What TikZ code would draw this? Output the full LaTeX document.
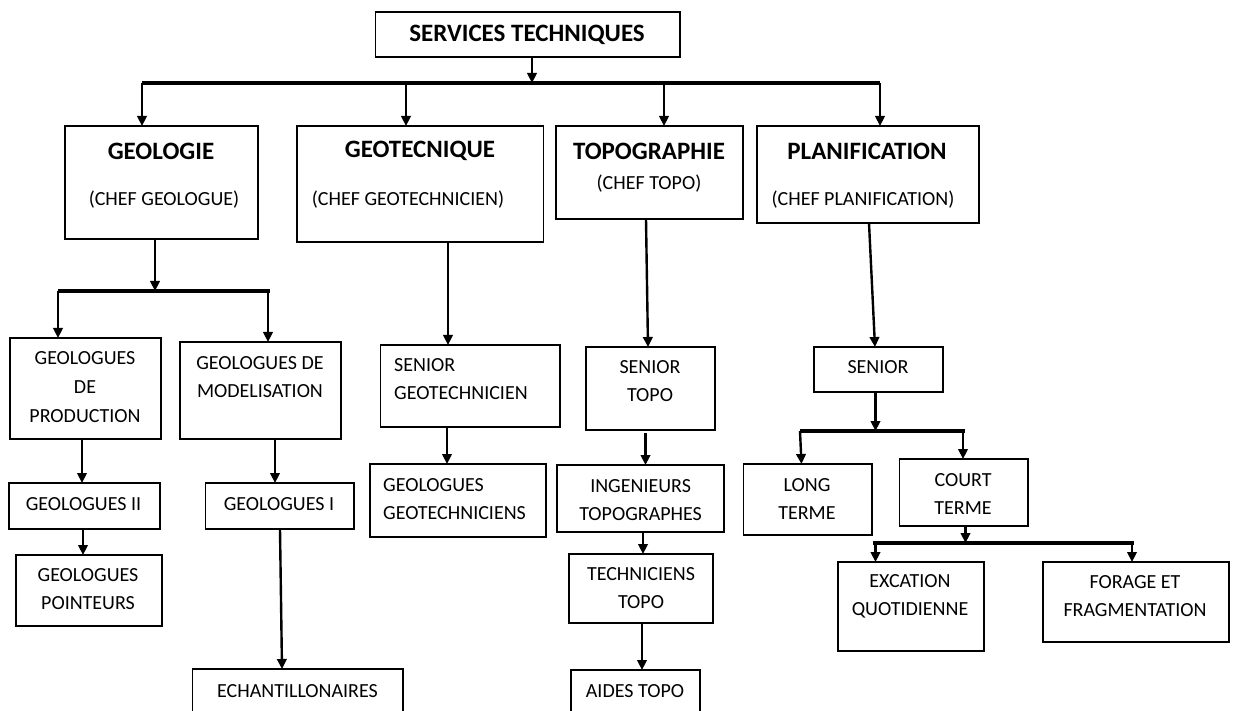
\documentclass[tikz,border=0pt]{standalone}
\usepackage{fontspec}
\setmainfont{Carlito}
\usetikzlibrary{arrows.meta}
\newcommand\mkbox[5]{\node[box, minimum width={(#4-#2)*1pt}, minimum height={(#5-#3)*1pt}] (#1) at ({(#2+#4)/2},{(#3+#5)/2}) {};}
\begin{document}
\begin{tikzpicture}[x=1pt,y=-1pt,
 box/.style={draw, line width=1.6pt, inner sep=0pt, outer sep=0pt},
 txt/.style={font=\fontsize{20}{28}\selectfont, align=center, inner sep=0pt},
 txtl/.style={font=\fontsize{20}{28}\selectfont, align=left, inner sep=0pt, anchor=west},
 ttl/.style={font=\bfseries\fontsize{25}{30}\selectfont, inner sep=0pt},
 arr/.style={line width=2.4pt, -{Triangle[length=10pt,width=9.5pt]}},
 bus/.style={line width=4pt},
 busb/.style={line width=3.4pt},
]
\useasboundingbox (0,0) rectangle (1235,711);
% ---------- boxes ----------
\mkbox{st}{375.5}{12}{680}{57}
\mkbox{geo}{65}{126}{258}{239}
\mkbox{gtec}{297}{126}{543.5}{242}
\mkbox{topo}{556}{126}{743}{219}
\mkbox{plan}{757}{126}{979}{223}
\mkbox{gp}{10}{338}{161}{439}
\mkbox{gm}{180}{342}{341}{439}
\mkbox{gii}{9}{483}{160}{529}
\mkbox{gpt}{16}{555}{162}{626}
\mkbox{gi}{205.5}{483}{354}{529}
\mkbox{ech}{192.5}{669}{403}{725}
\mkbox{sg}{380.6}{345}{560}{427}
\mkbox{ggt}{370}{464}{546}{537}
\mkbox{stp}{586}{347}{715}{430}
\mkbox{ing}{557}{465}{724}{532}
\mkbox{tech}{569}{554}{713}{623}
\mkbox{aides}{571}{670}{700}{725}
\mkbox{sen}{814}{347}{943}{392}
\mkbox{long}{743.5}{464}{872}{535}
\mkbox{court}{899.5}{459}{1028}{526}
\mkbox{exc}{838}{562}{984}{651}
\mkbox{for}{1043}{562}{1229}{642}
% ---------- texts ----------
\node[ttl] (tst) at (527,35) {SERVICES TECHNIQUES};
\node[ttl] (tgeo) at (161,151) {GEOLOGIE};
\node[txt] (tgeo2) at (164,200) {(CHEF GEOLOGUE)};
\node[ttl] (tgtec) at (420,151) {GEOTECNIQUE};
\node[txt] (tgtec2) at (408,200) {(CHEF GEOTECHNICIEN)};
\node[ttl] (ttopo) at (649,151) {TOPOGRAPHIE};
\node[txt] (ttopo2) at (649,184) {(CHEF TOPO)};
\node[ttl] (tplan) at (867,151) {PLANIFICATION};
\node[txt] (tplan2) at (863,200) {(CHEF PLANIFICATION)};
\node[txt, font=\fontsize{20}{29}\selectfont] (tgp) at (85,387) {GEOLOGUES\\DE\\PRODUCTION};
\node[txt] (tgm) at (260,377) {GEOLOGUES DE\\MODELISATION};
\node[txt] (tgii) at (83.5,504) {GEOLOGUES II};
\node[txt] (tgpt) at (88,589.5) {GEOLOGUES\\POINTEURS};
\node[txt] (tgi) at (279,504) {GEOLOGUES I};
\node[txt] (tech2) at (297.5,691) {ECHANTILLONAIRES};
\node[txtl] (tsg) at (394,379.5) {SENIOR\\GEOTECHNICIEN};
\node[txtl] (tggt) at (383,499) {GEOLOGUES\\GEOTECHNICIENS};
\node[txt] (tstp) at (650,381) {SENIOR\\TOPO};
\node[txt] (ting) at (640.6,500) {INGENIEURS\\TOPOGRAPHES};
\node[txt] (ttech) at (641,588) {TECHNICIENS\\TOPO};
\node[txt] (taides) at (635,691) {AIDES TOPO};
\node[txt] (tsen) at (878,367) {SENIOR};
\node[txt] (tlong) at (807,499) {LONG\\TERME};
\node[txt] (tcourt) at (963,494.5) {COURT\\TERME};
\node[txt] (texc) at (910,596) {EXCATION\\QUOTIDIENNE};
\node[txt] (tfor) at (1135,596) {FORAGE ET\\FRAGMENTATION};
% ---------- bus coordinates ----------
\coordinate (b1l) at (142,83);
\coordinate (b1a) at (406,83);
\coordinate (b1m) at (532,83);
\coordinate (b1b) at (664,83);
\coordinate (b1r) at (880,83);
\coordinate (b2l) at (58,291);
\coordinate (b2m) at (155,291);
\coordinate (b2r) at (270,291);
\coordinate (b2d) at (268,291);
\coordinate (b3l) at (800,431);
\coordinate (b3m) at (875.5,431);
\coordinate (b3r) at (964.5,431);
\coordinate (b3d) at (963,431);
\coordinate (b4l) at (872.5,543);
\coordinate (b4a) at (875.5,543);
\coordinate (b4m) at (965.5,543);
\coordinate (b4r) at (1134,543);
\coordinate (b4d) at (1132,543);
% ---------- connectors ----------
\draw[bus] (b1l) -- (b1r);
\draw[arr] (st.south -| b1m) -- (b1m);
\draw[arr] (b1l) -- (geo.north -| b1l);
\draw[arr] (b1a) -- (gtec.north -| b1a);
\draw[arr] (b1b) -- (topo.north -| b1b);
\draw[arr] (b1r) -- (plan.north -| b1r);
% geologie
\draw[busb] (b2l) -- (b2r);
\draw[arr] (geo.south -| b2m) -- (b2m);
\draw[arr] (b2l) -- (gp.north -| b2l);
\draw[arr] (b2d) -- (gm.north -| b2d);
\draw[arr] (gp.south -| 82,0) -- (gii.north -| 82,0);
\draw[arr] (gii.south -| 83,0) -- (gpt.north -| 83,0);
\draw[arr] (gm.south -| 275,0) -- (gi.north -| 275,0);
\draw[arr] (gi.south -| 280,0) -- (ech.north -| 282,0);
% geotechnique
\draw[arr] (gtec.south -| 448,0) -- (sg.north -| 448,0);
\draw[arr] (sg.south -| 447,0) -- (ggt.north -| 447,0);
% topographie
\draw[arr] (topo.south -| 646,0) -- (stp.north -| 648,0);
\draw[arr] ([yshift=-3pt]stp.south -| 645.5,0) -- (ing.north -| 645.5,0);
\draw[arr] (ing.south -| 643,0) -- (tech.north -| 643,0);
\draw[arr] (tech.south -| 642,0) -- (aides.north -| 642,0);
% planification
\draw[arr] (plan.south -| 869,0) -- (sen.north -| 875,0);
\draw[bus] (b3l) -- (b3r);
\draw[arr] (sen.south -| b3m) -- (b3m);
\draw[arr] (b3l) -- (long.north -| 801.5,0);
\draw[arr] (b3d) -- (court.north -| b3d);
\draw[busb] (b4l) -- (b4r);
\draw[arr] (court.south -| b4m) -- (b4m);
\draw[arr] (b4a) -- (exc.north -| b4a);
\draw[arr] (b4d) -- (for.north -| b4d);
\end{tikzpicture}
\end{document}
